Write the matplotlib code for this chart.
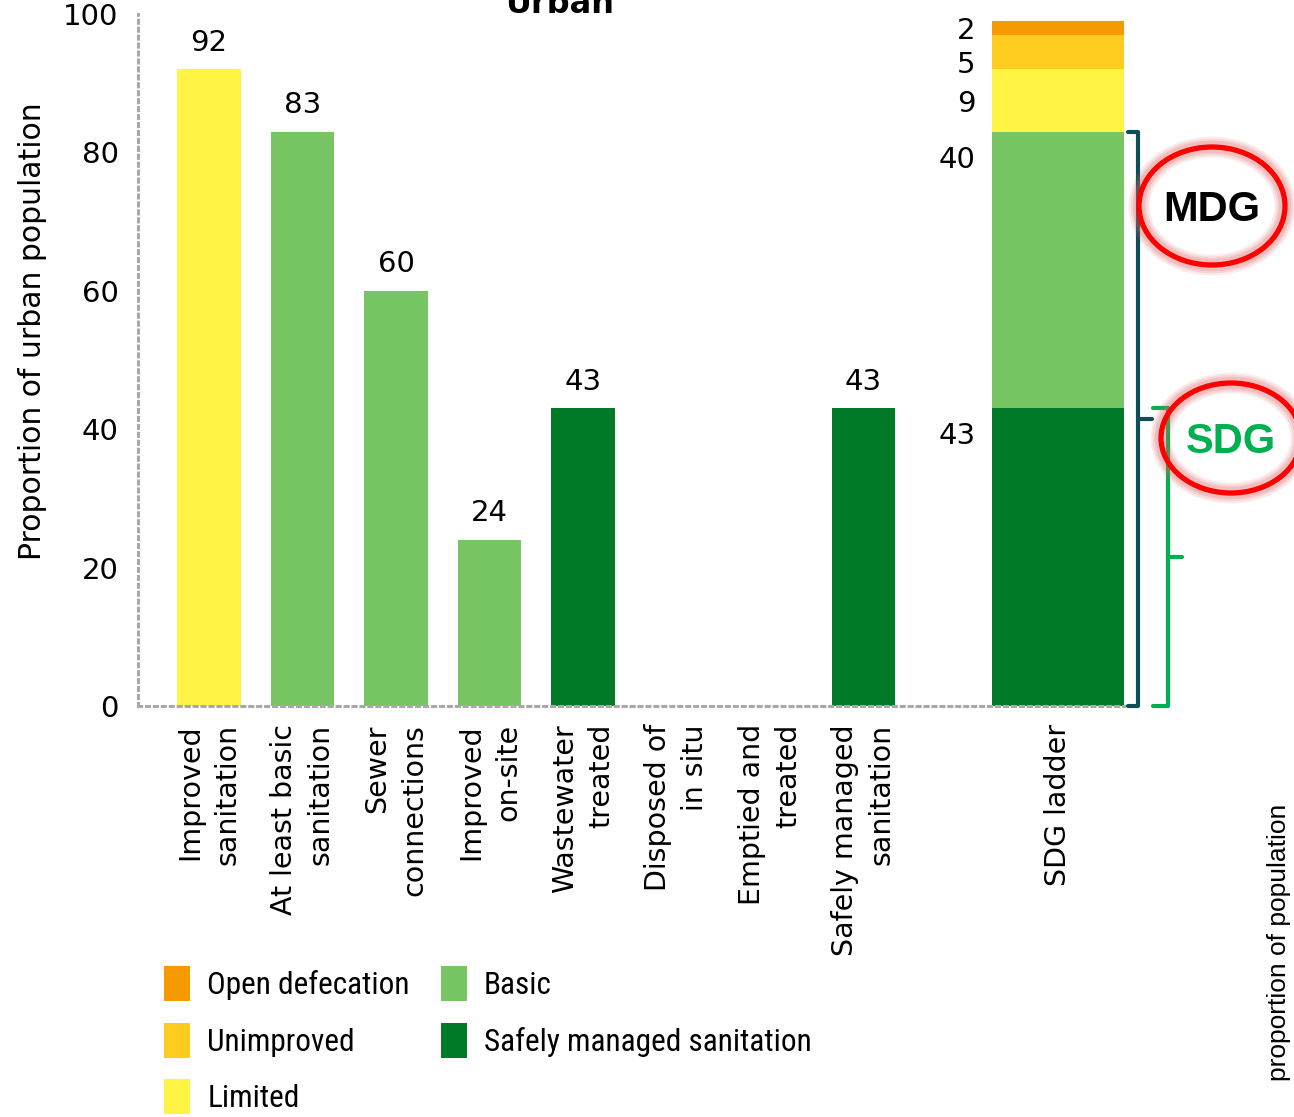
import matplotlib
matplotlib.use("Agg")
import matplotlib.pyplot as plt
from matplotlib.patches import Ellipse, Patch
import numpy as np

# data
categories = ["Improved\nsanitation", "At least basic\nsanitation", "Sewer\nconnections",
              "Improved\non-site", "Wastewater\ntreated", "Disposed of\nin situ",
              "Emptied and\ntreated", "Safely managed\nsanitation"]
values = [92, 83, 60, 24, 43, None, None, 43]
bar_levels = ["Limited", "Basic", "Basic", "Basic", "Safely managed sanitation",
              None, None, "Safely managed sanitation"]

ladder_label = "SDG ladder"
ladder_levels = ["Safely managed sanitation", "Basic", "Limited", "Unimproved", "Open defecation"]
ladder_values = [43, 40, 9, 5, 2]

legend_order = ["Open defecation", "Unimproved", "Limited", "Basic", "Safely managed sanitation"]
yticks = [0, 20, 40, 60, 80, 100]

colors = {
    "Open defecation": "#f59a00",
    "Unimproved": "#fecb1f",
    "Limited": "#fff343",
    "Basic": "#77c663",
    "Safely managed sanitation": "#007a28",
}
GREY = "#a8a8a8"
TEAL = "#0d4f56"
SDG_GREEN = "#00b050"
NARROW = ["Roboto Condensed", "Liberation Sans Narrow", "Roboto", "DejaVu Sans"]

W, H = 1294, 1117
fig = plt.figure(figsize=(W / 100, H / 100), dpi=100)
ax = fig.add_axes([138 / W, 1 - 706 / H, (1124 - 138) / W, 692 / H])
ax.set_xlim(-0.759, 9.786)
ax.set_ylim(0, 100)

# single bars
xs = np.arange(len(categories))
bx = [x for x, v in zip(xs, values) if v is not None]
bh = [v for v in values if v is not None]
bc = [colors[l] for l, v in zip(bar_levels, values) if v is not None]
bars = ax.bar(bx, bh, width=0.68, color=bc, zorder=2)
ax.bar_label(bars, padding=9, fontsize=21)

# stacked SDG ladder
ladder_x = 9.08
ladder_w = 1.41
tops = np.cumsum(ladder_values)
bottoms = tops - np.array(ladder_values)
for lvl, v, b in zip(ladder_levels, ladder_values, bottoms):
    ax.bar(ladder_x, v, bottom=b, width=ladder_w, color=colors[lvl], zorder=2)

# value labels left of the ladder; thin segments are spread so they don't collide
min_gap = 4.9
prev = None
label_pos = {}
for i in range(len(ladder_values) - 1, -1, -1):
    v, b = ladder_values[i], bottoms[i]
    if v < 10:
        y = b + v / 2
        if prev is not None:
            y = min(y, prev - min_gap)
        prev = y
        label_pos[i] = (y, "center_baseline", 0)
    else:
        label_pos[i] = (b + v, "top", -10)
for i, v in enumerate(ladder_values):
    y, va, dy = label_pos[i]
    ax.annotate(str(v), (ladder_x - ladder_w / 2, y), xytext=(-12, dy),
                textcoords="offset points", ha="right", va=va, fontsize=21)

# axes styling
for s in ["top", "right"]:
    ax.spines[s].set_visible(False)
for s in ["left", "bottom"]:
    ax.spines[s].set_linestyle((0, (1, 1.6)))
    ax.spines[s].set_color(GREY)
    ax.spines[s].set_linewidth(2.2)
    ax.spines[s].set_zorder(3)
ax.set_yticks(yticks)
ax.tick_params(axis="y", length=0, pad=14, labelsize=21)
ax.tick_params(axis="x", length=0, pad=13)
ax.set_xticks(list(xs) + [ladder_x], categories + [ladder_label], rotation=90,
              ha="center", va="top", multialignment="right", linespacing=1.4, fontsize=20.5)
ax.set_ylabel("Proportion of urban population", fontsize=21.5, va="center")
ax.yaxis.set_label_coords(-(138 - 33) / 986, (706 - 331) / 692)

# brackets to the right of the ladder
right = ladder_x + ladder_w / 2
def bracket(x_line, x_hook, x_nub, top, color):
    kw = dict(color=color, lw=3, clip_on=False, solid_capstyle="round", solid_joinstyle="round")
    ax.plot([right + x_hook, right + x_line, right + x_line, right + x_hook], [top, top, 0, 0], **kw)
    ax.plot([right + x_line, right + x_nub], [top / 2, top / 2], **kw)

bracket(0.15, 0.045, 0.30, tops[1], TEAL)
bracket(0.47, 0.31, 0.62, tops[0], SDG_GREEN)

# legend
handles = [Patch(facecolor=colors[l], edgecolor="none") for l in legend_order]
fig.legend(handles, legend_order, ncol=2, loc="upper left",
           bbox_to_anchor=(164 / W, 1 - 966 / H), frameon=False,
           prop={"family": NARROW, "size": 22.5}, handlelength=0.83, handleheight=1.35,
           handletextpad=0.55, labelspacing=0.69, columnspacing=1.0,
           borderaxespad=0, borderpad=0)

# overlay in pixel coordinates for the circled labels
ov = fig.add_axes([0, 0, 1, 1], zorder=10)
ov.set_xlim(0, W)
ov.set_ylim(H, 0)
ov.axis("off")
for (cx, cy, ew, eh, txt, tc) in [(1212, 206, 146, 118, "MDG", "black"),
                                  (1231, 438, 140, 110, "SDG", SDG_GREEN)]:
    for lw, a in [(15, 0.12), (12, 0.15), (9, 0.2)]:
        ov.add_patch(Ellipse((cx, cy), ew, eh, fill=False, ec="#e06060", lw=lw, alpha=a))
    ov.add_patch(Ellipse((cx, cy), ew, eh, fill=False, ec="#ff0000", lw=3.8))
    ov.text(cx, cy + 4, txt, ha="center", va="center", fontsize=30, weight="bold",
            color=tc, family=["Liberation Sans", "DejaVu Sans"])

fig.text(560 / W, 1 - 13 / H, "Urban", ha="center", va="baseline", fontsize=23, weight="bold")
fig.text(1279 / W, 1 - 942 / H, "proportion of population", rotation=90, ha="center",
         va="center", fontsize=19, family=["Liberation Sans", "DejaVu Sans"])

fig.savefig("out.png", dpi=100)
